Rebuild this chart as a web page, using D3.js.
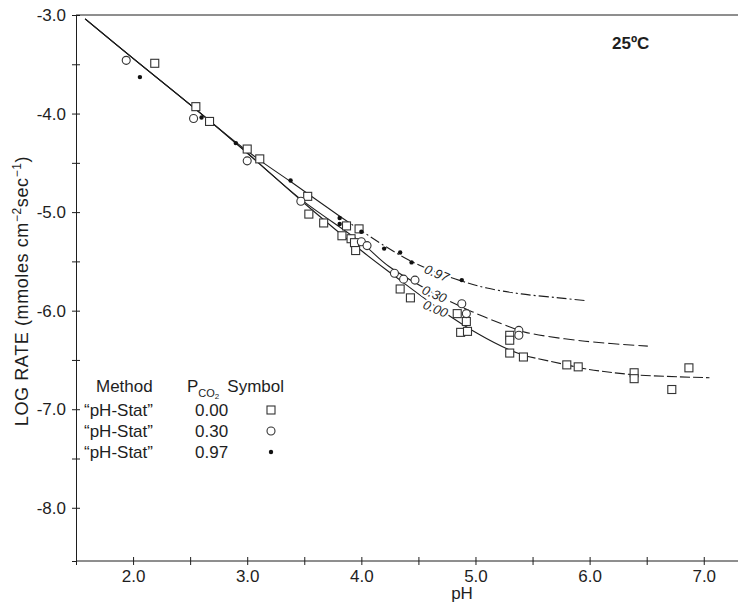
<!DOCTYPE html>
<html>
<head>
<meta charset="utf-8">
<script src="https://cdn.jsdelivr.net/npm/d3@7"></script>
<style>
  html, body { margin: 0; padding: 0; background: #fff; }
  svg { display: block; font-family: "Liberation Sans", Arial, Helvetica, sans-serif; }
</style>
</head>
<body>
<svg id="chart" width="738" height="605"></svg>
<script>
// Dissolution rate vs. pH at 25°C for three CO2 partial pressures

// Axis ticks
const xTicks = [1.5, 2.0, 2.5, 3.0, 3.5, 4.0, 4.5, 5.0, 5.5, 6.0, 6.5, 7.0];
const xLabels = [2.0, 3.0, 4.0, 5.0, 6.0, 7.0];
const yTicks = [-3.0, -3.5, -4.0, -4.5, -5.0, -5.5, -6.0, -6.5, -7.0, -7.5, -8.0];
const yLabels = [-3.0, -4.0, -5.0, -6.0, -7.0, -8.0];

// Measured points [pH, log rate]
const pco2_000 = [
  [2.19, -3.49], [2.55, -3.93], [2.67, -4.08], [3.00, -4.36], [3.11, -4.46],
  [3.53, -4.84], [3.54, -5.02], [3.67, -5.11], [3.87, -5.14], [3.98, -5.17],
  [3.83, -5.24], [3.91, -5.27], [3.94, -5.31], [3.95, -5.39], [4.34, -5.78],
  [4.43, -5.87], [4.84, -6.03], [4.92, -6.11], [4.87, -6.22], [4.93, -6.21],
  [5.30, -6.25], [5.30, -6.30], [5.30, -6.43], [5.42, -6.47], [5.80, -6.55],
  [5.90, -6.57], [6.39, -6.63], [6.39, -6.69], [6.87, -6.58], [6.72, -6.80]
];
const pco2_030 = [
  [1.94, -3.46], [2.53, -4.05], [3.00, -4.48], [3.47, -4.89], [4.00, -5.30],
  [4.05, -5.34], [4.29, -5.62], [4.37, -5.68], [4.47, -5.69], [4.88, -5.93],
  [4.92, -6.03], [5.38, -6.20], [5.38, -6.25]
];
const pco2_097 = [
  [2.06, -3.63], [2.60, -4.04], [2.90, -4.30], [3.38, -4.68], [3.81, -5.06],
  [3.81, -5.12], [4.00, -5.20], [4.20, -5.37], [4.34, -5.41], [4.44, -5.51],
  [4.88, -5.69]
];

// Fitted curves [pH, log rate]
const curve_000 = [
  [1.58, -3.04], [2.0, -3.44], [2.5, -3.91], [3.0, -4.40], [3.5, -4.91],
  [4.01, -5.40], [4.27, -5.63], [4.68, -5.98], [5.03, -6.24], [5.30, -6.40],
  [5.44, -6.46], [5.80, -6.55], [5.96, -6.59], [6.39, -6.65], [7.05, -6.68]
];
const curve_030 = [
  [1.58, -3.04], [2.0, -3.44], [2.5, -3.91], [3.0, -4.40], [3.46, -4.86],
  [4.0, -5.31], [4.24, -5.55], [4.66, -5.84], [4.97, -6.01], [5.29, -6.16],
  [5.44, -6.22], [5.96, -6.31], [6.51, -6.36]
];
const curve_097 = [
  [1.58, -3.04], [2.0, -3.44], [2.5, -3.91], [2.9, -4.29], [3.13, -4.49],
  [3.38, -4.69], [3.82, -5.05], [4.2, -5.34], [4.44, -5.50], [4.68, -5.62],
  [4.88, -5.70], [5.1, -5.77], [5.4, -5.83], [5.73, -5.87], [5.98, -5.90]
];

// Curve labels: text, pH, log rate
const curveLabels = [
  ["0.97", 4.66, -5.62],
  ["0.30", 4.64, -5.83],
  ["0.00", 4.65, -5.98]
];

const legendRows = [
  ["\u201CpH-Stat\u201D", "0.00", "square"],
  ["\u201CpH-Stat\u201D", "0.30", "circle"],
  ["\u201CpH-Stat\u201D", "0.97", "dot"]
];

const ink = "#1e1e1e";
const svg = d3.select("#chart");

const x = d3.scaleLinear().domain([1.5, 7.3]).range([76, 738]);
const y = d3.scaleLinear().domain([-8.54, -3.0]).range([561, 15]);

// top frame line
svg.append("line")
  .attr("x1", x(1.5)).attr("x2", 738)
  .attr("y1", y(-3.0)).attr("y2", y(-3.0))
  .attr("stroke", ink).attr("stroke-width", 1);

// x axis
const gx = svg.append("g")
  .attr("transform", `translate(0,${y(-8.54)})`)
  .call(d3.axisBottom(x)
    .tickValues(xTicks)
    .tickSizeOuter(0)
    .tickSize(4)
    .tickPadding(5)
    .tickFormat(d => xLabels.includes(d) ? d.toFixed(1) : ""));
gx.select(".domain").attr("stroke", ink).attr("d", `M${x(1.5)},0H738`);
gx.selectAll(".tick line").attr("y1", -4).attr("y2", 4).attr("stroke", ink);
gx.selectAll(".tick text").attr("font-size", 17).attr("fill", ink)
  .attr("font-family", "'Liberation Sans', Arial, sans-serif");

// y axis
const gy = svg.append("g")
  .attr("transform", `translate(${x(1.5)},0)`)
  .call(d3.axisLeft(y)
    .tickValues(yTicks)
    .tickSizeOuter(0)
    .tickSize(4)
    .tickPadding(6)
    .tickFormat(d => yLabels.includes(d) ? d.toFixed(1) : ""));
gy.select(".domain").attr("stroke", ink);
gy.selectAll(".tick line").attr("x1", -4).attr("x2", 4).attr("stroke", ink);
gy.selectAll(".tick text").attr("font-size", 17).attr("fill", ink)
  .attr("font-family", "'Liberation Sans', Arial, sans-serif");

// axis titles
svg.append("text")
  .attr("x", 462).attr("y", 599)
  .attr("text-anchor", "middle")
  .attr("font-size", 17).attr("fill", ink)
  .text("pH");

const yTitle = svg.append("text")
  .attr("transform", "translate(28,291) rotate(-90)")
  .attr("text-anchor", "middle")
  .attr("font-size", 18).attr("fill", ink)
  .attr("letter-spacing", 0.6);
yTitle.append("tspan").text("LOG RATE (mmoles cm");
yTitle.append("tspan").attr("dy", -7).attr("font-size", 12).text("\u22122");
yTitle.append("tspan").attr("dy", 7).text("sec");
yTitle.append("tspan").attr("dy", -7).attr("font-size", 12).text("\u22121");
yTitle.append("tspan").attr("dy", 7).text(")");

// temperature note
svg.append("text")
  .attr("x", 612).attr("y", 49)
  .attr("font-size", 17).attr("font-weight", "bold").attr("fill", ink)
  .text("25\u00BAC");

// curves: solid head, styled tail
const line = d3.line()
  .x(d => x(d[0])).y(d => y(d[1]))
  .curve(d3.curveCatmullRom.alpha(0.5));

function drawCurve(pts, split, dash) {
  const head = pts.filter(d => d[0] <= split);
  const tail = pts.filter(d => d[0] >= head[head.length - 1][0]);
  svg.append("path").attr("d", line(head))
    .attr("fill", "none").attr("stroke", ink).attr("stroke-width", 1.1);
  svg.append("path").attr("d", line(tail))
    .attr("fill", "none").attr("stroke", ink).attr("stroke-width", 1.1)
    .attr("stroke-dasharray", dash);
}
drawCurve(curve_000, 5.5, "10,3");
drawCurve(curve_030, 4.7, "11,4");
drawCurve(curve_097, 3.9, "10,3,2,3");

// curve labels with white halo breaking the line
curveLabels.forEach(([t, px, py]) => {
  svg.append("text")
    .attr("transform", `translate(${x(px)},${y(py)}) rotate(23)`)
    .attr("text-anchor", "middle").attr("dy", "0.35em")
    .attr("font-size", 13).attr("font-style", "italic")
    .attr("fill", ink)
    .attr("stroke", "#fff").attr("stroke-width", 4)
    .attr("paint-order", "stroke")
    .text(t);
});

// markers
function marker(g, kind, cx, cy) {
  if (kind === "square") {
    g.append("rect").attr("x", cx - 4).attr("y", cy - 4)
      .attr("width", 8).attr("height", 8)
      .attr("fill", "#fff").attr("stroke", "#333").attr("stroke-width", 1.1);
  } else if (kind === "circle") {
    g.append("circle").attr("cx", cx).attr("cy", cy).attr("r", 4)
      .attr("fill", "#fff").attr("stroke", "#333").attr("stroke-width", 1.1);
  } else {
    g.append("circle").attr("cx", cx).attr("cy", cy).attr("r", 2.2)
      .attr("fill", "#111");
  }
}
const gm = svg.append("g");
pco2_000.forEach(d => marker(gm, "square", x(d[0]), y(d[1])));
pco2_030.forEach(d => marker(gm, "circle", x(d[0]), y(d[1])));
pco2_097.forEach(d => marker(gm, "dot", x(d[0]), y(d[1])));

// legend
const lg = svg.append("g").attr("font-size", 17).attr("fill", ink);
lg.append("text").attr("x", 96).attr("y", 392).text("Method");
const pt = lg.append("text").attr("x", 187).attr("y", 392);
pt.append("tspan").text("P");
pt.append("tspan").attr("dy", 5).attr("font-size", 11).text("CO");
pt.append("tspan").attr("dy", 2).attr("font-size", 8).text("2");
pt.append("tspan").attr("dy", -7).attr("dx", 8).text("Symbol");
legendRows.forEach((r, i) => {
  const yy = 416 + i * 21;
  lg.append("text").attr("x", 84).attr("y", yy).text(r[0]);
  lg.append("text").attr("x", 195).attr("y", yy).text(r[1]);
  marker(lg, r[2], 271, yy - 6);
});
</script>
</body>
</html>
